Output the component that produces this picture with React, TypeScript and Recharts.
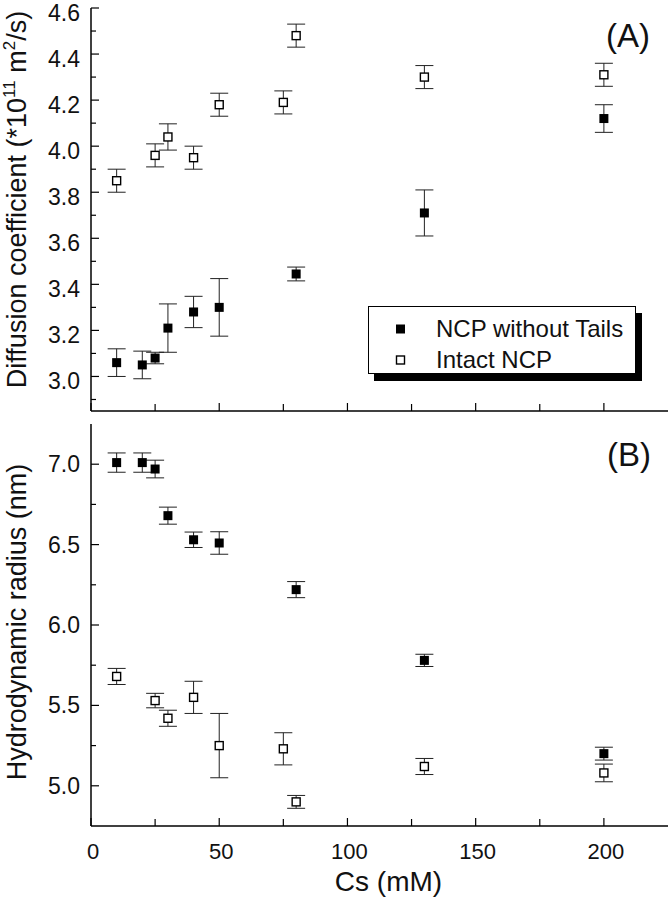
import React from "react";
import { ErrorBar, Legend, Scatter, ScatterChart, XAxis, YAxis } from "recharts";

// salt concentration (mM) for each series
const csNoTails = [10, 20, 25, 30, 40, 50, 80, 130, 200];
const csIntact = [10, 25, 30, 40, 50, 75, 80, 130, 200];

// (A) diffusion coefficient, *10^11 m^2/s
const diffNoTails = [3.06, 3.05, 3.08, 3.21, 3.28, 3.3, 3.445, 3.71, 4.12];
const diffNoTailsErr = [0.06, 0.06, 0.025, 0.105, 0.068, 0.125, 0.03, 0.1, 0.06];
const diffIntact = [3.85, 3.96, 4.04, 3.95, 4.18, 4.19, 4.48, 4.3, 4.31];
const diffIntactErr = [0.05, 0.05, 0.057, 0.05, 0.05, 0.05, 0.05, 0.05, 0.05];

// (B) hydrodynamic radius, nm
const rhNoTails = [7.01, 7.01, 6.97, 6.68, 6.53, 6.51, 6.22, 5.78, 5.2];
const rhNoTailsErr = [0.06, 0.06, 0.055, 0.053, 0.048, 0.07, 0.05, 0.038, 0.04];
const rhIntact = [5.68, 5.53, 5.42, 5.55, 5.25, 5.23, 4.9, 5.12, 5.08];
const rhIntactErr = [0.05, 0.045, 0.05, 0.1, 0.2, 0.1, 0.04, 0.05, 0.055];

const seriesNames = ["NCP without Tails", "Intact NCP"];

const xTicks = [0, 25, 50, 75, 100, 125, 150, 175, 200];
const xLabels = [0, 50, 100, 150, 200];
const diffTicks = [2.9, 3.0, 3.1, 3.2, 3.3, 3.4, 3.5, 3.6, 3.7, 3.8, 3.9, 4.0, 4.1, 4.2, 4.3, 4.4, 4.5];
const diffLabels = [3.0, 3.2, 3.4, 3.6, 3.8, 4.0, 4.2, 4.4, 4.6];
const rhTicks = [5.0, 5.25, 5.5, 5.75, 6.0, 6.25, 6.5, 6.75, 7.0];
const rhLabels = [5.0, 5.5, 6.0, 6.5, 7.0];

const FONT = "'Liberation Sans', Arial, Helvetica, sans-serif";

const toPoints = (xs: number[], ys: number[], errs: number[]) =>
  xs.map((x, i) => ({ x, y: ys[i], err: errs[i] }));

const isIn = (list: number[], v: number) => list.some((l) => Math.abs(l - v) < 1e-6);

const filledSquare = (p: any) => (
  <rect x={p.cx - 4.5} y={p.cy - 4.5} width={9} height={9} fill="#000" />
);
const openSquare = (p: any) => (
  <rect x={p.cx - 4} y={p.cy - 4} width={8} height={8} fill="#fff" stroke="#000" strokeWidth={1.4} />
);

// inward tick marks, labels only on major values
const makeLeftTick = (labels: number[], dy: number) => (props: any) => {
  const { x, y, payload } = props;
  const major = isIn(labels, payload.value);
  return (
    <g>
      <line x1={x} x2={x + (major ? 8 : 5)} y1={y} y2={y} stroke="#000" strokeWidth={1.2} />
      {major && (
        <text x={x - 11} y={y + dy} textAnchor="end" fontSize={23} fontFamily={FONT} fill="#111">
          {payload.value.toFixed(1)}
        </text>
      )}
    </g>
  );
};

const makeRightTick = (labels: number[]) => (props: any) => {
  const { x, y, payload } = props;
  const major = isIn(labels, payload.value);
  return <line x1={x} x2={x - (major ? 8 : 5)} y1={y} y2={y} stroke="#000" strokeWidth={1.2} />;
};

const makeBottomTick = (showLabels: boolean) => (props: any) => {
  const { x, y, payload } = props;
  const major = isIn(xLabels, payload.value);
  return (
    <g>
      <line x1={x} x2={x} y1={y} y2={y - (major ? 8 : 7)} stroke="#000" strokeWidth={1.2} />
      {showLabels && major && (
        <text x={x + 2} y={y + 33} textAnchor="middle" fontSize={22} fontFamily={FONT} fill="#111">
          {payload.value}
        </text>
      )}
    </g>
  );
};

const topTick = (props: any) => {
  const { x, y, payload } = props;
  const major = isIn(xLabels, payload.value);
  return <line x1={x} x2={x} y1={y} y2={y + (major ? 8 : 7)} stroke="#000" strokeWidth={1.2} />;
};

const diffTitle = (props: any) => {
  const vb = props.viewBox;
  const cy = vb.y + vb.height / 2 - 10;
  return (
    <text x={26} y={cy} transform={`rotate(-90 26 ${cy})`} textAnchor="middle" fontSize={27} fontFamily={FONT} fill="#111">
      <tspan>Diffusion coefficient (*10</tspan>
      <tspan dy={-11} fontSize={17}>11</tspan>
      <tspan dy={11}> m</tspan>
      <tspan dy={-11} fontSize={17}>2</tspan>
      <tspan dy={11}>/s)</tspan>
    </text>
  );
};

const rhTitle = (props: any) => {
  const vb = props.viewBox;
  const cy = vb.y + vb.height / 2 - 3;
  return (
    <text x={26} y={cy} transform={`rotate(-90 26 ${cy})`} textAnchor="middle" fontSize={27} fontFamily={FONT} fill="#111">
      Hydrodynamic radius (nm)
    </text>
  );
};

const xTitle = (props: any) => {
  const vb = props.viewBox;
  return (
    <text x={vb.x + vb.width / 2 + 9} y={vb.y + 65} textAnchor="middle" fontSize={28} fontFamily={FONT} fill="#111">
      Cs (mM)
    </text>
  );
};

function LegendBox(props: any) {
  const payload = [...(props.payload || [])].sort(
    (a: any, b: any) => seriesNames.indexOf(a.value) - seriesNames.indexOf(b.value)
  );
  return (
    <div
      style={{
        width: 266,
        height: 66,
        border: "1px solid #000",
        background: "#fff",
        boxShadow: "6px 7px 0 #000",
        fontFamily: FONT,
        fontSize: 24,
        color: "#111",
        position: "relative",
      }}
    >
      {payload.map((entry: any) => {
        const i = seriesNames.indexOf(entry.value);
        return (
          <div key={entry.value} style={{ position: "absolute", left: 0, top: 8 + i * 31, height: 28, display: "flex", alignItems: "center" }}>
            <svg width={60} height={28}>
              {i === 0 ? (
                <rect x={27} y={9.5} width={9} height={9} fill="#000" />
              ) : (
                <rect x={27.5} y={10} width={8} height={8} fill="#fff" stroke="#000" strokeWidth={1.4} />
              )}
            </svg>
            <span style={{ marginLeft: 7, lineHeight: "28px" }}>{entry.value}</span>
          </div>
        );
      })}
    </div>
  );
}

const frame = { stroke: "#000", strokeWidth: 1.5 };

export default function App() {
  return (
    <div style={{ position: "absolute", left: 0, top: 0, width: 672, height: 899, background: "#fff" }}>
      <div style={{ position: "absolute", left: 0, top: 0 }}>
        <ScatterChart width={672} height={416} margin={{ top: 8, right: 4, left: 0, bottom: 0 }}>
          <XAxis xAxisId="b" type="number" dataKey="x" domain={[0, 225]} ticks={xTicks} height={5}
            axisLine={frame} tickLine={false} tickSize={0} tickMargin={0} tick={makeBottomTick(false)} interval={0} />
          <XAxis xAxisId="t" orientation="top" type="number" dataKey="x" domain={[0, 225]} ticks={xTicks} height={0}
            axisLine={frame} tickLine={false} tickSize={0} tickMargin={0} tick={topTick} interval={0} />
          <YAxis yAxisId="l" type="number" dataKey="y" domain={[2.85, 4.6]} ticks={[...diffTicks, 4.6]} width={91}
            axisLine={frame} tickLine={false} tickSize={0} tickMargin={0} tick={makeLeftTick(diffLabels, 13)} interval={0}
            label={diffTitle} allowDataOverflow />
          <YAxis yAxisId="r" orientation="right" type="number" dataKey="y" domain={[2.85, 4.6]} ticks={diffTicks} width={0}
            axisLine={frame} tickLine={false} tickSize={0} tickMargin={0} tick={makeRightTick(diffLabels)} interval={0} />
          <Scatter name={seriesNames[0]} data={toPoints(csNoTails, diffNoTails, diffNoTailsErr)} xAxisId="b" yAxisId="l"
            shape={filledSquare} isAnimationActive={false}>
            <ErrorBar dataKey="err" direction="y" width={9} stroke="#222" strokeWidth={1} />
          </Scatter>
          <Scatter name={seriesNames[1]} data={toPoints(csIntact, diffIntact, diffIntactErr)} xAxisId="b" yAxisId="l"
            shape={openSquare} isAnimationActive={false}>
            <ErrorBar dataKey="err" direction="y" width={9} stroke="#222" strokeWidth={1} />
          </Scatter>
          <Legend layout="horizontal" verticalAlign="middle" align="center" content={LegendBox}
            wrapperStyle={{ left: 368, top: 306, width: 268, height: 68 }} />
          <text x={628} y={47} textAnchor="middle" fontSize={33} fontFamily={FONT} fill="#111">(A)</text>
        </ScatterChart>
      </div>
      <div style={{ position: "absolute", left: 0, top: 416 }}>
        <ScatterChart width={672} height={483} margin={{ top: 8, right: 4, left: 0, bottom: 0 }}>
          <XAxis xAxisId="b" type="number" dataKey="x" domain={[0, 225]} ticks={xTicks} height={73}
            axisLine={frame} tickLine={false} tickSize={0} tickMargin={0} tick={makeBottomTick(true)} interval={0}
            label={xTitle} />
          <XAxis xAxisId="t" orientation="top" type="number" dataKey="x" domain={[0, 225]} ticks={xTicks} height={0}
            axisLine={frame} tickLine={false} tickSize={0} tickMargin={0} tick={topTick} interval={0} />
          <YAxis yAxisId="l" type="number" dataKey="y" domain={[4.75, 7.25]} ticks={rhTicks} width={91}
            axisLine={frame} tickLine={false} tickSize={0} tickMargin={0} tick={makeLeftTick(rhLabels, 8)} interval={0}
            label={rhTitle} allowDataOverflow />
          <YAxis yAxisId="r" orientation="right" type="number" dataKey="y" domain={[4.75, 7.25]} ticks={rhTicks} width={0}
            axisLine={frame} tickLine={false} tickSize={0} tickMargin={0} tick={makeRightTick(rhLabels)} interval={0} />
          <Scatter name={seriesNames[0]} data={toPoints(csNoTails, rhNoTails, rhNoTailsErr)} xAxisId="b" yAxisId="l"
            shape={filledSquare} isAnimationActive={false}>
            <ErrorBar dataKey="err" direction="y" width={9} stroke="#222" strokeWidth={1} />
          </Scatter>
          <Scatter name={seriesNames[1]} data={toPoints(csIntact, rhIntact, rhIntactErr)} xAxisId="b" yAxisId="l"
            shape={openSquare} isAnimationActive={false}>
            <ErrorBar dataKey="err" direction="y" width={9} stroke="#222" strokeWidth={1} />
          </Scatter>
          <text x={629} y={50} textAnchor="middle" fontSize={33} fontFamily={FONT} fill="#111">(B)</text>
        </ScatterChart>
      </div>
    </div>
  );
}
